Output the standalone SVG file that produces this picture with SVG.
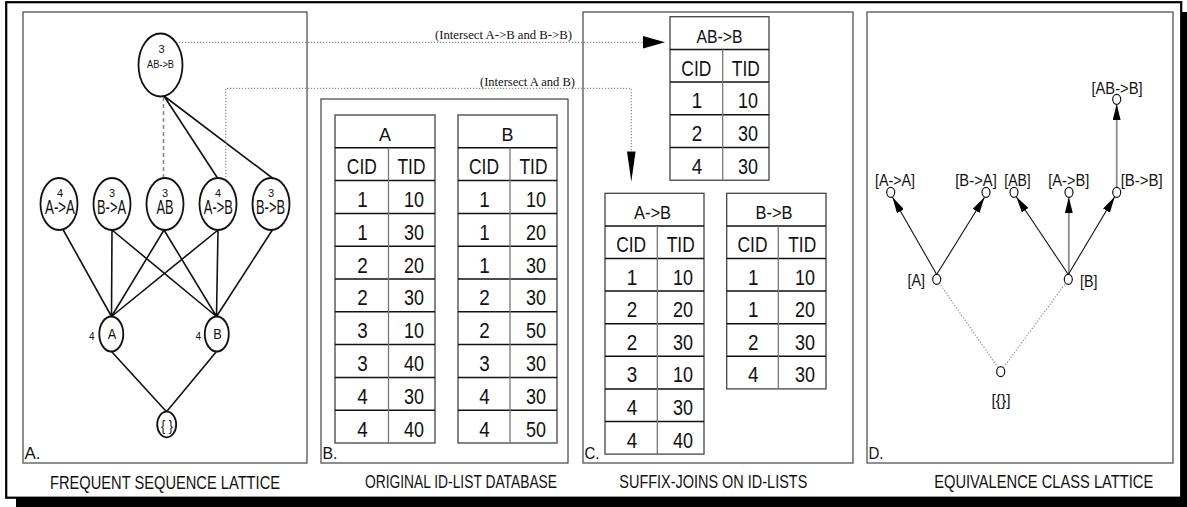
<svg xmlns="http://www.w3.org/2000/svg" width="1187" height="507" viewBox="0 0 1187 507">
<defs>
<style>
text{font-family:"Liberation Sans Narrow","Arial Narrow","Liberation Sans",Arial,sans-serif;fill:#111}
.tm{font-family:"Liberation Serif","Times New Roman",serif;font-size:13.5px}
.c{text-anchor:middle}
.e{text-anchor:end}
.panel{fill:none;stroke:#444;stroke-width:1.2}
.nd{fill:#fff;stroke:#111;stroke-width:1.8}
.ed{fill:none;stroke:#111;stroke-width:1.6}
.dot{fill:none;stroke:#8a8a8a;stroke-width:1.2;stroke-dasharray:1.2 1.8}
.tb{fill:#fff;stroke:#444;stroke-width:1.3}
.hl{stroke:#111;stroke-width:1.5}
.vd{stroke:#777;stroke-width:1.3}
.hd{font-size:19px}
.bd{font-size:22px}
.dl{font-size:16px}
.cap{font-size:17.5px}
.sm{font-size:11px}
.dn{fill:#fff;stroke:#111;stroke-width:1.2}
.ar{fill:none;stroke:#111;stroke-width:1.1}
.ag{fill:none;stroke:#8a8a8a;stroke-width:1.8}
</style>
<marker id="ah" markerWidth="16" markerHeight="8" refX="16" refY="4" orient="auto" markerUnits="userSpaceOnUse"><path d="M0,0 L16,4 L0,8 z" fill="#000"/></marker>
</defs>
<!-- frame with shadow -->
<rect x="16" y="12" width="1171" height="495" fill="#000"/>
<rect x="6.2" y="2.2" width="1175" height="495.5" fill="#fff" stroke="#000" stroke-width="2.2"/>
<!-- panels -->
<g id="panels">
<rect class="panel" x="23" y="12" width="284" height="451"/>
<rect class="panel" x="321" y="99" width="247" height="364"/>
<rect class="panel" x="583" y="12" width="270" height="451"/>
<rect class="panel" x="867" y="12" width="306" height="451"/>
<text x="24.5" y="459" font-size="17" textLength="16" lengthAdjust="spacingAndGlyphs">A.</text>
<text x="322.5" y="458.5" font-size="17" textLength="15" lengthAdjust="spacingAndGlyphs">B.</text>
<text x="584.5" y="459" font-size="17" textLength="15" lengthAdjust="spacingAndGlyphs">C.</text>
<text x="868.5" y="459" font-size="17" textLength="15" lengthAdjust="spacingAndGlyphs">D.</text>
<text class="cap c" x="165" y="489" textLength="230" lengthAdjust="spacingAndGlyphs">FREQUENT SEQUENCE LATTICE</text>
<text class="cap c" x="461" y="488.3" textLength="192" lengthAdjust="spacingAndGlyphs">ORIGINAL ID-LIST DATABASE</text>
<text class="cap c" x="713.3" y="487.5" textLength="188" lengthAdjust="spacingAndGlyphs">SUFFIX-JOINS ON ID-LISTS</text>
<text class="cap c" x="1043.7" y="488.3" textLength="219" lengthAdjust="spacingAndGlyphs">EQUIVALENCE CLASS LATTICE</text>
</g>
<!-- connectors -->
<g id="connectors">
<path d="M163.5 97 V178" fill="none" stroke="#888" stroke-width="1.6" stroke-dasharray="4 3"/>
<path class="ed" d="M164 96 L217.5 178 M164 96 L273 178.5"/>
<path class="ed" d="M63 229.5 L111.5 316.5 M112 230 L111.5 316.5 M112 230 L216.5 316.5 M164 230 L111.5 316.5 M164 230 L216.5 316.5 M218 230 L111.5 316.5 M218 230 L216.5 316.5 M273 229 L216.5 316.5"/>
<path class="ed" d="M111.5 351.5 L166.5 411.7 M216.5 351.5 L166.5 411.7"/>
<path class="dot" d="M176 42.3 H644"/>
<polygon points="643,36 665,42.3 643,48.6" fill="#000"/>
<path class="dot" d="M225.7 180 V88.3 H631.3 V152"/>
<polygon points="627,151.5 635.6,151.5 631.3,181.7" fill="#000"/>
<text class="tm e" x="572" y="39" textLength="137" lengthAdjust="spacingAndGlyphs">(Intersect A-&gt;B and B-&gt;B)</text>
<text class="tm e" x="575" y="86" textLength="95" lengthAdjust="spacingAndGlyphs">(Intersect A and B)</text>
<!-- panel D -->
<path class="ar" d="M936.7 274.5 L892.5 197.3" marker-end="url(#ah)"/>
<path class="ar" d="M936.7 274.5 L984.5 197.3" marker-end="url(#ah)"/>
<path class="ar" d="M1068.3 274.5 L1016.3 196.8" marker-end="url(#ah)"/>
<path class="ag" d="M1068.8 274.3 V197.3" marker-end="url(#ah)"/>
<path class="ar" d="M1068.3 274.5 L1114.7 196.8" marker-end="url(#ah)"/>
<path class="ag" d="M1116.7 187.3 V104.3" marker-end="url(#ah)"/>
<path class="dot" d="M998 367.5 L939.5 283.5 M1003.5 367.5 L1065.5 283.5"/>
</g>
<!-- panel A nodes -->
<g id="n-ABB"><ellipse class="nd" cx="160.5" cy="65" rx="22" ry="31.5"/><text class="sm c" x="161.5" y="52.7">3</text><text class="c" x="160.5" y="68.3" font-size="10" textLength="27" lengthAdjust="spacingAndGlyphs">AB-&gt;B</text></g>
<g id="n-AA"><ellipse class="nd" cx="59" cy="204" rx="18.5" ry="26"/><text class="sm c" x="60" y="196.5">4</text><text class="c" x="60" y="214.3" font-size="20" textLength="30" lengthAdjust="spacingAndGlyphs">A-&gt;A</text></g>
<g id="n-BA"><ellipse class="nd" cx="112" cy="204" rx="18.5" ry="26"/><text class="sm c" x="112" y="196.5">3</text><text class="c" x="111.5" y="214.3" font-size="20" textLength="29" lengthAdjust="spacingAndGlyphs">B-&gt;A</text></g>
<g id="n-AB"><ellipse class="nd" cx="165" cy="204" rx="18.5" ry="26"/><text class="sm c" x="165" y="196.5">3</text><text class="c" x="165" y="214.3" font-size="20" textLength="17" lengthAdjust="spacingAndGlyphs">AB</text></g>
<g id="n-A-B"><ellipse class="nd" cx="218" cy="204" rx="18.5" ry="26"/><text class="sm c" x="218" y="196.5">4</text><text class="c" x="218.3" y="214.3" font-size="20" textLength="29" lengthAdjust="spacingAndGlyphs">A-&gt;B</text></g>
<g id="n-BB"><ellipse class="nd" cx="271" cy="204" rx="18.5" ry="26"/><text class="sm c" x="271" y="196.5">3</text><text class="c" x="270.5" y="214.3" font-size="20" textLength="29" lengthAdjust="spacingAndGlyphs">B-&gt;B</text></g>
<g id="n-A"><ellipse class="nd" cx="111.3" cy="334" rx="12" ry="17.5"/><text class="c" x="112" y="338.5" font-size="15" textLength="8.5" lengthAdjust="spacingAndGlyphs">A</text><text class="c" x="91.8" y="339.5" font-size="10">4</text></g>
<g id="n-B"><ellipse class="nd" cx="216.8" cy="334" rx="12" ry="17.5"/><text class="c" x="217.5" y="338.5" font-size="15" textLength="8.5" lengthAdjust="spacingAndGlyphs">B</text><text class="c" x="198.3" y="339.5" font-size="10">4</text></g>
<g id="n-empty"><ellipse class="nd" cx="166.7" cy="424.5" rx="9.5" ry="12.8"/><text class="c" x="167" y="431" font-size="15" textLength="12" lengthAdjust="spacingAndGlyphs">{ }</text></g>
<!-- panel B tables -->
<g id="tbl-A">
<rect class="tb" x="335" y="115" width="100" height="328"/>
<path class="hl" d="M335 147.8H435M335 180.6H435M335 213.4H435M335 246.2H435M335 279H435M335 311.8H435M335 344.6H435M335 377.4H435M335 410.2H435"/>
<path class="vd" d="M388.5 147.8V443"/>
<text class="hd c" x="385" y="141.3" textLength="12" lengthAdjust="spacingAndGlyphs">A</text>
<text class="bd c" x="361.8" y="174.1" textLength="30" lengthAdjust="spacingAndGlyphs">CID</text>
<text class="bd c" x="411.5" y="174.1" textLength="28" lengthAdjust="spacingAndGlyphs">TID</text>
<g class="bd">
<text class="c" x="362.5" y="206.9" textLength="10.5" lengthAdjust="spacingAndGlyphs">1</text><text class="e" x="424" y="206.9" textLength="20" lengthAdjust="spacingAndGlyphs">10</text>
<text class="c" x="362.5" y="239.7" textLength="10.5" lengthAdjust="spacingAndGlyphs">1</text><text class="e" x="424" y="239.7" textLength="20" lengthAdjust="spacingAndGlyphs">30</text>
<text class="c" x="362.5" y="272.5" textLength="10.5" lengthAdjust="spacingAndGlyphs">2</text><text class="e" x="424" y="272.5" textLength="20" lengthAdjust="spacingAndGlyphs">20</text>
<text class="c" x="362.5" y="305.3" textLength="10.5" lengthAdjust="spacingAndGlyphs">2</text><text class="e" x="424" y="305.3" textLength="20" lengthAdjust="spacingAndGlyphs">30</text>
<text class="c" x="362.5" y="338.1" textLength="10.5" lengthAdjust="spacingAndGlyphs">3</text><text class="e" x="424" y="338.1" textLength="20" lengthAdjust="spacingAndGlyphs">10</text>
<text class="c" x="362.5" y="370.9" textLength="10.5" lengthAdjust="spacingAndGlyphs">3</text><text class="e" x="424" y="370.9" textLength="20" lengthAdjust="spacingAndGlyphs">40</text>
<text class="c" x="362.5" y="403.7" textLength="10.5" lengthAdjust="spacingAndGlyphs">4</text><text class="e" x="424" y="403.7" textLength="20" lengthAdjust="spacingAndGlyphs">30</text>
<text class="c" x="362.5" y="436.5" textLength="10.5" lengthAdjust="spacingAndGlyphs">4</text><text class="e" x="424" y="436.5" textLength="20" lengthAdjust="spacingAndGlyphs">40</text>
</g>
</g>
<g id="tbl-B">
<rect class="tb" x="458" y="115" width="99" height="328"/>
<path class="hl" d="M458 147.8H557M458 180.6H557M458 213.4H557M458 246.2H557M458 279H557M458 311.8H557M458 344.6H557M458 377.4H557M458 410.2H557"/>
<path class="vd" d="M510 147.8V443"/>
<text class="hd c" x="507.5" y="141.3" textLength="12" lengthAdjust="spacingAndGlyphs">B</text>
<text class="bd c" x="484" y="174.1" textLength="30" lengthAdjust="spacingAndGlyphs">CID</text>
<text class="bd c" x="533.5" y="174.1" textLength="28" lengthAdjust="spacingAndGlyphs">TID</text>
<g class="bd">
<text class="c" x="484.5" y="206.9" textLength="10.5" lengthAdjust="spacingAndGlyphs">1</text><text class="e" x="546" y="206.9" textLength="20" lengthAdjust="spacingAndGlyphs">10</text>
<text class="c" x="484.5" y="239.7" textLength="10.5" lengthAdjust="spacingAndGlyphs">1</text><text class="e" x="546" y="239.7" textLength="20" lengthAdjust="spacingAndGlyphs">20</text>
<text class="c" x="484.5" y="272.5" textLength="10.5" lengthAdjust="spacingAndGlyphs">1</text><text class="e" x="546" y="272.5" textLength="20" lengthAdjust="spacingAndGlyphs">30</text>
<text class="c" x="484.5" y="305.3" textLength="10.5" lengthAdjust="spacingAndGlyphs">2</text><text class="e" x="546" y="305.3" textLength="20" lengthAdjust="spacingAndGlyphs">30</text>
<text class="c" x="484.5" y="338.1" textLength="10.5" lengthAdjust="spacingAndGlyphs">2</text><text class="e" x="546" y="338.1" textLength="20" lengthAdjust="spacingAndGlyphs">50</text>
<text class="c" x="484.5" y="370.9" textLength="10.5" lengthAdjust="spacingAndGlyphs">3</text><text class="e" x="546" y="370.9" textLength="20" lengthAdjust="spacingAndGlyphs">30</text>
<text class="c" x="484.5" y="403.7" textLength="10.5" lengthAdjust="spacingAndGlyphs">4</text><text class="e" x="546" y="403.7" textLength="20" lengthAdjust="spacingAndGlyphs">30</text>
<text class="c" x="484.5" y="436.5" textLength="10.5" lengthAdjust="spacingAndGlyphs">4</text><text class="e" x="546" y="436.5" textLength="20" lengthAdjust="spacingAndGlyphs">50</text>
</g>
</g>
<!-- panel C tables -->
<g id="tbl-ABB">
<rect class="tb" x="670" y="16.7" width="99" height="163.5"/>
<path class="hl" d="M670 49.4H769M670 82.1H769M670 114.8H769M670 147.5H769"/>
<path class="vd" d="M722.7 49.4V180.2"/>
<text class="hd c" x="719.5" y="42.9" textLength="46" lengthAdjust="spacingAndGlyphs">AB-&gt;B</text>
<text class="bd c" x="696.3" y="75.6" textLength="30" lengthAdjust="spacingAndGlyphs">CID</text>
<text class="bd c" x="745.8" y="75.6" textLength="28" lengthAdjust="spacingAndGlyphs">TID</text>
<g class="bd">
<text class="c" x="697" y="108.3" textLength="10.5" lengthAdjust="spacingAndGlyphs">1</text><text class="e" x="758" y="108.3" textLength="20" lengthAdjust="spacingAndGlyphs">10</text>
<text class="c" x="697" y="141" textLength="10.5" lengthAdjust="spacingAndGlyphs">2</text><text class="e" x="758" y="141" textLength="20" lengthAdjust="spacingAndGlyphs">30</text>
<text class="c" x="697" y="173.7" textLength="10.5" lengthAdjust="spacingAndGlyphs">4</text><text class="e" x="758" y="173.7" textLength="20" lengthAdjust="spacingAndGlyphs">30</text>
</g>
</g>
<g id="tbl-AtoB">
<rect class="tb" x="605" y="193.3" width="99" height="260.8"/>
<path class="hl" d="M605 225.9H704M605 258.5H704M605 291.1H704M605 323.7H704M605 356.3H704M605 388.9H704M605 421.5H704"/>
<path class="vd" d="M657.3 225.9V454.1"/>
<text class="hd c" x="652.5" y="219.4" textLength="37" lengthAdjust="spacingAndGlyphs">A-&gt;B</text>
<text class="bd c" x="631.2" y="252" textLength="30" lengthAdjust="spacingAndGlyphs">CID</text>
<text class="bd c" x="680.7" y="252" textLength="28" lengthAdjust="spacingAndGlyphs">TID</text>
<g class="bd">
<text class="c" x="632" y="284.6" textLength="10.5" lengthAdjust="spacingAndGlyphs">1</text><text class="e" x="693" y="284.6" textLength="20" lengthAdjust="spacingAndGlyphs">10</text>
<text class="c" x="632" y="317.2" textLength="10.5" lengthAdjust="spacingAndGlyphs">2</text><text class="e" x="693" y="317.2" textLength="20" lengthAdjust="spacingAndGlyphs">20</text>
<text class="c" x="632" y="349.8" textLength="10.5" lengthAdjust="spacingAndGlyphs">2</text><text class="e" x="693" y="349.8" textLength="20" lengthAdjust="spacingAndGlyphs">30</text>
<text class="c" x="632" y="382.4" textLength="10.5" lengthAdjust="spacingAndGlyphs">3</text><text class="e" x="693" y="382.4" textLength="20" lengthAdjust="spacingAndGlyphs">10</text>
<text class="c" x="632" y="415" textLength="10.5" lengthAdjust="spacingAndGlyphs">4</text><text class="e" x="693" y="415" textLength="20" lengthAdjust="spacingAndGlyphs">30</text>
<text class="c" x="632" y="447.6" textLength="10.5" lengthAdjust="spacingAndGlyphs">4</text><text class="e" x="693" y="447.6" textLength="20" lengthAdjust="spacingAndGlyphs">40</text>
</g>
</g>
<g id="tbl-BtoB">
<rect class="tb" x="726.7" y="193.3" width="99.3" height="195.6"/>
<path class="hl" d="M726.7 225.9H826M726.7 258.5H826M726.7 291.1H826M726.7 323.7H826M726.7 356.3H826"/>
<path class="vd" d="M778.3 225.9V388.9"/>
<text class="hd c" x="774" y="219.4" textLength="37" lengthAdjust="spacingAndGlyphs">B-&gt;B</text>
<text class="bd c" x="752.5" y="252" textLength="30" lengthAdjust="spacingAndGlyphs">CID</text>
<text class="bd c" x="802.2" y="252" textLength="28" lengthAdjust="spacingAndGlyphs">TID</text>
<g class="bd">
<text class="c" x="753.3" y="284.6" textLength="10.5" lengthAdjust="spacingAndGlyphs">1</text><text class="e" x="815" y="284.6" textLength="20" lengthAdjust="spacingAndGlyphs">10</text>
<text class="c" x="753.3" y="317.2" textLength="10.5" lengthAdjust="spacingAndGlyphs">1</text><text class="e" x="815" y="317.2" textLength="20" lengthAdjust="spacingAndGlyphs">20</text>
<text class="c" x="753.3" y="349.8" textLength="10.5" lengthAdjust="spacingAndGlyphs">2</text><text class="e" x="815" y="349.8" textLength="20" lengthAdjust="spacingAndGlyphs">30</text>
<text class="c" x="753.3" y="382.4" textLength="10.5" lengthAdjust="spacingAndGlyphs">4</text><text class="e" x="815" y="382.4" textLength="20" lengthAdjust="spacingAndGlyphs">30</text>
</g>
</g>
<!-- panel D nodes -->
<g id="d-ABB"><ellipse class="dn" cx="1116.7" cy="99.3" rx="4" ry="5"/><text class="dl c" x="1117" y="94" textLength="51" lengthAdjust="spacingAndGlyphs">[AB-&gt;B]</text></g>
<g id="d-AA"><ellipse class="dn" cx="890.7" cy="192.3" rx="4" ry="5"/><text class="dl c" x="895" y="186" textLength="40" lengthAdjust="spacingAndGlyphs">[A-&gt;A]</text></g>
<g id="d-BA"><ellipse class="dn" cx="986" cy="192.3" rx="4" ry="5"/><text class="dl c" x="976" y="186" textLength="41.5" lengthAdjust="spacingAndGlyphs">[B-&gt;A]</text></g>
<g id="d-AB"><ellipse class="dn" cx="1014" cy="192.3" rx="4" ry="5"/><text class="dl c" x="1017.5" y="186" textLength="26.5" lengthAdjust="spacingAndGlyphs">[AB]</text></g>
<g id="d-A-B"><ellipse class="dn" cx="1069" cy="192.3" rx="4" ry="5"/><text class="dl c" x="1068.8" y="186" textLength="41" lengthAdjust="spacingAndGlyphs">[A-&gt;B]</text></g>
<g id="d-BB"><ellipse class="dn" cx="1116.7" cy="192.3" rx="4" ry="5"/><text class="dl" x="1120.7" y="186" textLength="42" lengthAdjust="spacingAndGlyphs">[B-&gt;B]</text></g>
<g id="d-A"><ellipse class="dn" cx="936.7" cy="279.3" rx="4" ry="5"/><text class="dl e" x="925" y="286" textLength="17.5" lengthAdjust="spacingAndGlyphs">[A]</text></g>
<g id="d-B"><ellipse class="dn" cx="1068.3" cy="279.3" rx="4" ry="5"/><text class="dl" x="1080" y="287" textLength="17.5" lengthAdjust="spacingAndGlyphs">[B]</text></g>
<g id="d-empty"><ellipse class="dn" cx="1000.7" cy="371.7" rx="4" ry="5"/><text class="dl c" x="1001" y="406" textLength="19" lengthAdjust="spacingAndGlyphs">[{}]</text></g>
</svg>
